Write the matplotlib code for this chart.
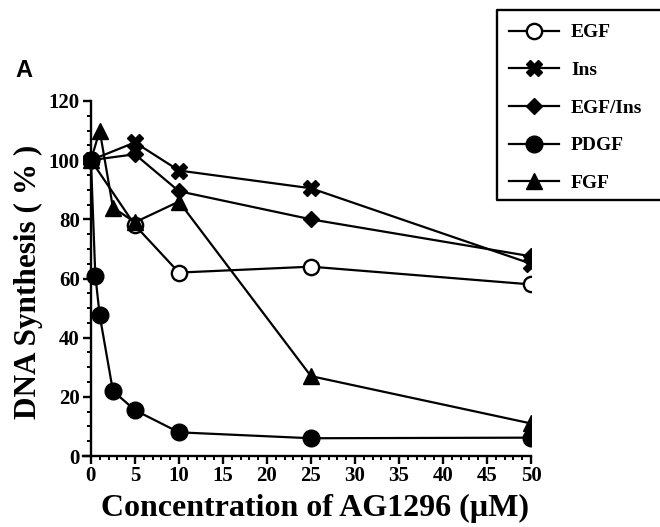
import matplotlib
matplotlib.use("Agg")
import matplotlib.pyplot as plt
from matplotlib.lines import Line2D
from matplotlib.ticker import MultipleLocator

# concentration of AG1296 (uM)
conc_main = [0, 5, 10, 25, 50]
conc_pdgf = [0, 0.5, 1, 2.5, 5, 10, 25, 50]
conc_fgf = [0, 1, 2.5, 5, 10, 25, 50]

# DNA synthesis (% of control)
egf = [100, 78, 62, 64, 58]
ins = [100, 106, 96.5, 90.5, 65]
egf_ins = [100, 102, 89.5, 80, 67.5]
pdgf = [100, 61, 47.5, 22, 15.5, 8, 6, 6.2]
fgf = [100, 110, 84, 79, 86, 27, 11]

x_ticks = [0, 5, 10, 15, 20, 25, 30, 35, 40, 45, 50]
y_ticks = [0, 20, 40, 60, 80, 100, 120]

plt.rcParams["font.family"] = ["Liberation Serif", "DejaVu Serif"]
plt.rcParams["font.weight"] = "bold"

fig = plt.figure(figsize=(6.6, 5.27), dpi=100)

# axes box: x 0..50 at px 91..531, y 0..120 at px 456..101
left = 83 / 660
right = 531 / 660
bottom = 1 - 456 / 527
top = 1 - 101 / 527
ax = fig.add_axes([left, bottom, right - left, top - bottom])

lw = 1.6

ax.plot(conc_main, egf, "-o", color="black", lw=lw,
        markersize=11, markerfacecolor="white", markeredgewidth=1.7,
        label="EGF", zorder=3)
ax.plot(conc_main, ins, "-X", color="black", lw=lw,
        markersize=11, label="Ins", zorder=3)
ax.plot(conc_main, egf_ins, "-D", color="black", lw=lw,
        markersize=8, label="EGF/Ins", zorder=3)
ax.plot(conc_pdgf, pdgf, "-o", color="black", lw=lw,
        markersize=12, label="PDGF", zorder=3)
ax.plot(conc_fgf, fgf, "-^", color="black", lw=lw,
        markersize=11, label="FGF", zorder=3)

ax.set_xlim(-0.9, 50)
ax.set_ylim(0, 120)

ax.spines["left"].set_position(("data", 0))
ax.spines["right"].set_visible(False)
ax.spines["top"].set_visible(False)
ax.spines["left"].set_bounds(0, 120)
for s in ("left", "bottom"):
    ax.spines[s].set_linewidth(1.7)

ax.set_xticks(x_ticks)
ax.set_yticks(y_ticks)
ax.xaxis.set_minor_locator(MultipleLocator(1))
ax.yaxis.set_minor_locator(MultipleLocator(5))
ax.tick_params(which="major", direction="out", length=6, width=1.7,
               labelsize=15)
ax.tick_params(which="minor", direction="out", length=3, width=1.4)
ax.tick_params(axis="x", pad=1)
ax.tick_params(axis="y", pad=2)

ax.set_xlabel("Concentration of AG1296 (\u00b5M)", fontsize=23,
              fontweight="bold")
ax.set_ylabel("DNA Synthesis ( % )", fontsize=22.5, fontweight="bold")
ax.xaxis.set_label_coords(0.518, -0.108)
ax.yaxis.set_label_coords(-0.089, 0.49)

fig.text(15 / 660, 1 - 77 / 527, "A", fontsize=17, fontweight="bold",
         family="Liberation Sans")

# legend box, open on the right: it runs past the figure edge
bx0 = 497 / 660
by0 = 1 - 200 / 527
by1 = 1 - 10 / 527
fig.add_artist(Line2D(
    [1.0, bx0, bx0, 1.0],
    [by1, by1, by0, by0],
    transform=fig.transFigure, color="black", linewidth=1.7
))

leg = fig.legend(
    loc="upper left",
    bbox_to_anchor=(503 / 660, 1 - 18 / 527),
    frameon=False,
    fontsize=14,
    handlelength=2.6,
    labelspacing=1.03,
    borderaxespad=0,
    handletextpad=0.6,
    borderpad=0.3,
)
for t in leg.get_texts():
    t.set_fontweight("bold")

fig.savefig("out.png", dpi=100)
